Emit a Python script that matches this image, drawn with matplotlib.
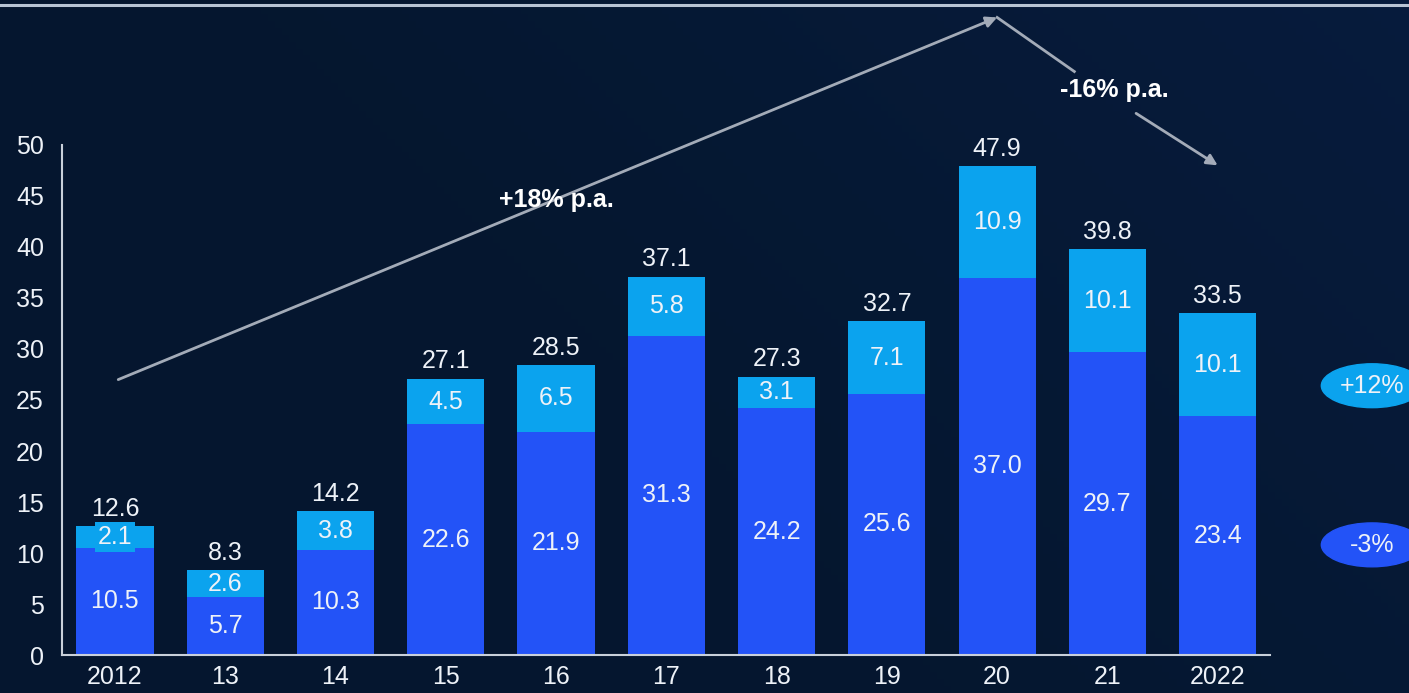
"""Stacked bar chart of annual volumes, 2012-2022, with CAGR arrows."""

import matplotlib.pyplot as plt
import numpy as np
from matplotlib.lines import Line2D
from matplotlib.patches import Ellipse

plt.rcParams["font.family"] = ["Liberation Sans", "DejaVu Sans"]

years = ["2012", "13", "14", "15", "16", "17", "18", "19", "20", "21", "2022"]
base = [10.5, 5.7, 10.3, 22.6, 21.9, 31.3, 24.2, 25.6, 37.0, 29.7, 23.4]
top = [2.1, 2.6, 3.8, 4.5, 6.5, 5.8, 3.1, 7.1, 10.9, 10.1, 10.1]
totals = [12.6, 8.3, 14.2, 27.1, 28.5, 37.1, 27.3, 32.7, 47.9, 39.8, 33.5]
yticks = [0, 5, 10, 15, 20, 25, 30, 35, 40, 45, 50]

DARK = "#2353f7"
LIGHT = "#0ba3ee"
TEXT = "#eef2f8"
LINE = "#a3abb8"
FS = 18

fig = plt.figure(figsize=(14.09, 6.93), dpi=100)

# background: navy with a faint lift toward the right
bg = fig.add_axes([0, 0, 1, 1], zorder=-10)
gx = np.linspace(0, 1, 200)
gy = np.linspace(0, 1, 100)
grad = np.clip(0.6 * gx[None, :] + 0.3 * gy[:, None] - 0.4, 0, 1)
c0 = np.array([0.020, 0.090, 0.185])
c1 = np.array([0.035, 0.125, 0.290])
img = c0[None, None, :] + grad[:, :, None] * (c1 - c0)[None, None, :]
bg.imshow(img, aspect="auto", extent=[0, 1, 0, 1], origin="lower")
bg.axis("off")

ax = fig.add_axes([0.044, 0.0548, 0.857, 0.736])
ax.set_facecolor("none")

x = np.arange(len(years))
width = 0.70
ax.bar(x, base, width, color=DARK, zorder=2)
ax.bar(x, top, width, bottom=base, color=LIGHT, zorder=2)

for xi, b, t, tot in zip(x, base, top, totals):
    ax.text(xi, b / 2, f"{b:.1f}", ha="center", va="center",
            color=TEXT, fontsize=FS, zorder=4)
    kw = {}
    if t < 2.5:
        # thin segment: give the label its own backing box
        kw["bbox"] = dict(boxstyle="square,pad=0.12", fc=LIGHT, ec="none")
    ax.text(xi, b + t / 2, f"{t:.1f}", ha="center", va="center",
            color=TEXT, fontsize=FS, zorder=4, **kw)
    ax.text(xi, b + t + 0.5, f"{tot:.1f}", ha="center", va="bottom",
            color=TEXT, fontsize=FS, zorder=4)

ax.set_xlim(-0.48, 10.47)
ax.set_ylim(0, 50)
ax.set_xticks(x)
ax.set_xticklabels(years)
ax.set_yticks(yticks)
ax.tick_params(length=0, colors=TEXT, labelsize=FS)
ax.tick_params(axis="x", pad=7)
ax.tick_params(axis="y", pad=13)
for side in ("top", "right"):
    ax.spines[side].set_visible(False)
for side in ("left", "bottom"):
    ax.spines[side].set_color("#c9d0da")
    ax.spines[side].set_linewidth(1.5)

# growth arrows
arrow_kw = dict(arrowstyle="-|>", color=LINE, lw=2, mutation_scale=16,
                shrinkA=0, shrinkB=0)
ax.annotate("", xy=(8.0, 62.5), xytext=(0.03, 27.0),
            arrowprops=arrow_kw, annotation_clip=False)
ax.plot([8.0, 8.7], [62.5, 57.2], color=LINE, lw=2, clip_on=False)
ax.annotate("", xy=(10.0, 48.0), xytext=(9.26, 53.1),
            arrowprops=arrow_kw, annotation_clip=False)
ax.text(4.0, 44.6, "+18% p.a.", ha="center", va="center", color="white",
        fontsize=FS, fontweight="bold")
ax.text(9.06, 55.4, "-16% p.a.", ha="center", va="center", color="white",
        fontsize=FS, fontweight="bold")

# CAGR badges per segment
for yv, label, col in [(26.4, "+12%", LIGHT), (10.8, "-3%", DARK)]:
    ax.add_patch(Ellipse((11.40, yv), 0.92, 4.3, color=col,
                         clip_on=False, zorder=3))
    ax.text(11.40, yv, label, ha="center", va="center", color=TEXT,
            fontsize=FS, zorder=4)

fig.add_artist(Line2D([0, 1], [0.993, 0.993], color="#b8c4d4", lw=2.2))

fig.savefig("out.png", dpi=100)
